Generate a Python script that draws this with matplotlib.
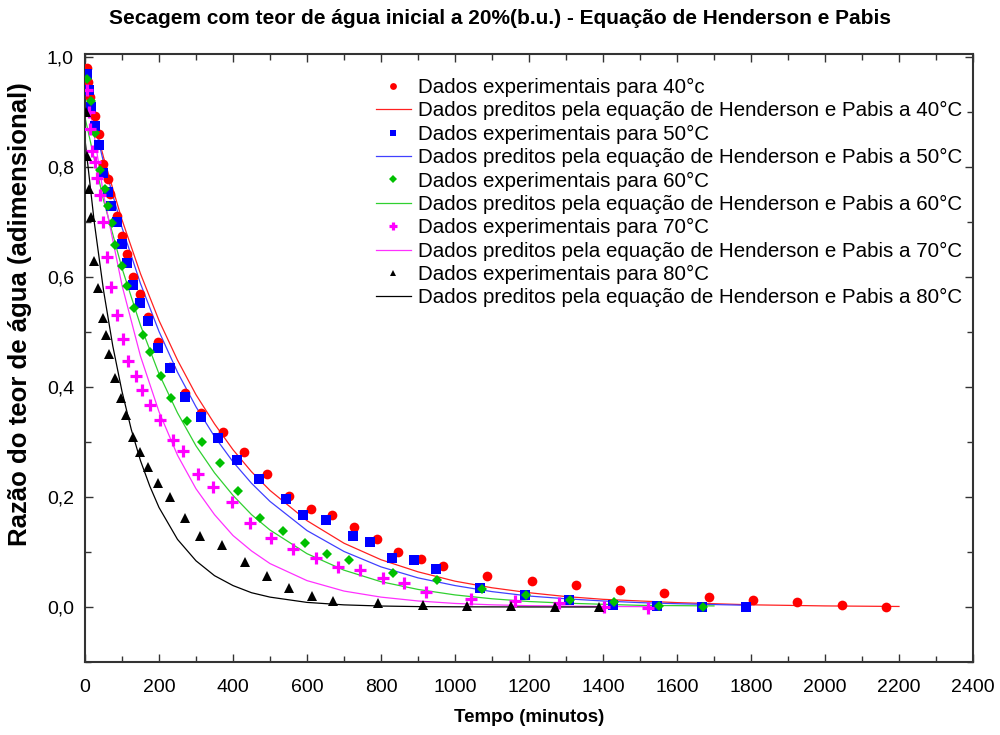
import matplotlib
matplotlib.use("Agg")
import matplotlib.pyplot as plt
from matplotlib.ticker import MultipleLocator, FuncFormatter

# ---------------- data ----------------
t40 = [5, 8, 14, 27, 38, 49, 62, 68, 86, 100, 114, 130, 149, 170, 197, 230, 270, 314, 373, 430,
       492, 551, 611, 668, 727, 789, 846, 908, 968, 1086, 1208, 1327, 1446, 1565, 1686, 1805, 1924, 2046, 2165]
mr40 = [0.98, 0.955, 0.927, 0.893, 0.86, 0.805, 0.778, 0.751, 0.711, 0.675, 0.642, 0.60, 0.569, 0.527,
        0.482, 0.436, 0.389, 0.353, 0.318, 0.282, 0.242, 0.202, 0.178, 0.167, 0.145, 0.124, 0.100, 0.087,
        0.075, 0.056, 0.047, 0.040, 0.031, 0.025, 0.018, 0.013, 0.009, 0.004, 0.0]

t50 = [5, 10, 16, 27, 38, 49, 62, 70, 86, 100, 114, 130, 149, 170, 197, 230, 270, 314, 359, 411,
       470, 543, 589, 651, 724, 770, 830, 889, 949, 1068, 1189, 1308, 1427, 1546, 1668, 1786]
mr50 = [0.97, 0.94, 0.91, 0.875, 0.84, 0.79, 0.755, 0.73, 0.70, 0.66, 0.625, 0.585, 0.552, 0.52, 0.471,
        0.435, 0.382, 0.345, 0.307, 0.267, 0.233, 0.196, 0.167, 0.158, 0.129, 0.118, 0.089, 0.085, 0.069,
        0.035, 0.022, 0.013, 0.004, 0.002, 0.0, 0.0]

t60 = [5, 16, 27, 41, 54, 62, 73, 81, 100, 114, 132, 157, 176, 205, 232, 276, 316, 365, 414, 473,
       535, 595, 654, 714, 832, 951, 1073, 1192, 1311, 1430, 1551, 1670]
mr60 = [0.96, 0.92, 0.862, 0.795, 0.76, 0.73, 0.698, 0.658, 0.62, 0.584, 0.544, 0.495, 0.464, 0.42,
        0.38, 0.338, 0.30, 0.262, 0.211, 0.162, 0.138, 0.116, 0.096, 0.086, 0.062, 0.050, 0.033, 0.022,
        0.013, 0.009, 0.002, 0.0]

t70 = [5, 11, 14, 19, 27, 32, 41, 49, 59, 70, 86, 103, 116, 138, 154, 176, 203, 238, 265, 305, 346,
       397, 446, 503, 562, 624, 684, 743, 805, 862, 922, 1043, 1162, 1281, 1403, 1522]
mr70 = [0.94, 0.90, 0.87, 0.83, 0.81, 0.78, 0.75, 0.70, 0.636, 0.582, 0.531, 0.487, 0.447, 0.42, 0.395,
        0.367, 0.34, 0.304, 0.284, 0.242, 0.218, 0.191, 0.153, 0.125, 0.105, 0.089, 0.073, 0.067, 0.053,
        0.044, 0.027, 0.015, 0.011, 0.007, 0.0, -0.002]

t80 = [3, 5, 11, 16, 24, 35, 49, 57, 65, 81, 97, 111, 130, 149, 170, 197, 230, 270, 311, 370, 432,
       492, 551, 614, 670, 792, 914, 1032, 1151, 1270, 1389]
mr80 = [0.90, 0.82, 0.76, 0.71, 0.63, 0.58, 0.525, 0.495, 0.46, 0.416, 0.38, 0.349, 0.309, 0.282,
        0.255, 0.225, 0.20, 0.162, 0.129, 0.113, 0.082, 0.056, 0.035, 0.020, 0.011, 0.007, 0.004, 0.002,
        0.002, 0.0, 0.0]

# predicted curves
tp40 = [0, 50, 100, 150, 200, 250, 300, 350, 400, 450, 500, 600, 700, 800, 900, 1000, 1100, 1200,
        1300, 1400, 1600, 1800, 2000, 2200]
pp40 = [0.95, 0.818, 0.704, 0.606, 0.521, 0.449, 0.386, 0.333, 0.286, 0.246, 0.212, 0.157, 0.116,
        0.086, 0.064, 0.047, 0.035, 0.026, 0.019, 0.014, 0.008, 0.004, 0.002, 0.001]

tp50 = [0, 50, 100, 150, 200, 250, 300, 350, 400, 450, 500, 600, 700, 800, 900, 1000, 1100, 1200,
        1300, 1400, 1500, 1600, 1800]
pp50 = [0.95, 0.809, 0.690, 0.588, 0.501, 0.427, 0.364, 0.310, 0.264, 0.225, 0.192, 0.139, 0.101,
        0.073, 0.053, 0.039, 0.028, 0.020, 0.015, 0.011, 0.008, 0.006, 0.003]

tp60 = [0, 50, 100, 150, 200, 250, 300, 350, 400, 450, 500, 600, 700, 800, 900, 1000, 1100, 1200,
        1300, 1400, 1500, 1700]
pp60 = [0.89, 0.74, 0.616, 0.512, 0.424, 0.353, 0.293, 0.244, 0.203, 0.168, 0.140, 0.097, 0.067,
        0.046, 0.032, 0.022, 0.015, 0.010, 0.007, 0.005, 0.003, 0.002]

tp70 = [0, 50, 100, 150, 200, 250, 300, 350, 400, 450, 500, 600, 700, 800, 900, 1000, 1100, 1200,
        1400, 1550]
pp70 = [0.965, 0.75, 0.585, 0.456, 0.355, 0.276, 0.215, 0.168, 0.130, 0.102, 0.079, 0.048, 0.029,
        0.018, 0.011, 0.0065, 0.004, 0.0024, 0.001, 0.0005]

tp80 = [0, 25, 50, 75, 100, 125, 150, 175, 200, 250, 300, 350, 400, 450, 500, 600, 700, 800, 900,
        1000, 1200, 1400]
pp80 = [0.85, 0.70, 0.576, 0.475, 0.392, 0.323, 0.266, 0.22, 0.181, 0.123, 0.084, 0.057, 0.039,
        0.026, 0.018, 0.0084, 0.0039, 0.0018, 0.0008, 0.0004, 0.0001, 0.0]

xticks = [0, 200, 400, 600, 800, 1000, 1200, 1400, 1600, 1800, 2000, 2200, 2400]
yticks = [0.0, 0.2, 0.4, 0.6, 0.8, 1.0]

title = "Secagem com teor de água inicial a 20%(b.u.) - Equação de Henderson e Pabis"
xlabel = "Tempo (minutos)"
ylabel = "Razão do teor de água (adimensional)"
lab_exp = ["Dados experimentais para 40°c", "Dados experimentais para 50°C",
           "Dados experimentais para 60°C", "Dados experimentais para 70°C",
           "Dados experimentais para 80°C"]
lab_pred = ["Dados preditos pela equação de Henderson e Pabis a 40°C",
            "Dados preditos pela equação de Henderson e Pabis a 50°C",
            "Dados preditos pela equação de Henderson e Pabis a 60°C",
            "Dados preditos pela equação de Henderson e Pabis a 70°C",
            "Dados preditos pela equação de Henderson e Pabis a 80°C"]

# ---------------- plot ----------------
plt.rcParams['font.family'] = ['Liberation Sans', 'DejaVu Sans']

fig = plt.figure(figsize=(10, 7.35), dpi=100)
ax = fig.add_axes([0.085, 0.0993, 0.888, 0.8272])

series = [
    (t40, mr40, tp40, pp40, 'o', '#ff0000', '#ff2020', 7.0, 0),
    (t50, mr50, tp50, pp50, 's', '#0000ff', '#4040ff', 7.0, 0),
    (t60, mr60, tp60, pp60, 'D', '#00c000', '#30d030', 5.3, 0),
    (t70, mr70, tp70, pp70, '+', '#ff00ff', '#ff30ff', 9.0, 2.3),
    (t80, mr80, tp80, pp80, '^', '#000000', '#000000', 7.0, 0),
]
handles = []
labels = []
for i, (tx, my, tpx, ppy, mk, c, lc, ms, mew) in enumerate(series):
    kw = dict(markeredgewidth=mew) if mk == '+' else dict(markeredgewidth=0)
    h1, = ax.plot(tx, my, linestyle='none', marker=mk, color=c, markersize=ms, zorder=3 + i, **kw)
    h2, = ax.plot(tpx, ppy, linestyle='-', color=lc, linewidth=0.9, zorder=2)
    handles += [h1, h2]
    labels += [lab_exp[i], lab_pred[i]]

ax.set_xlim(0, 2400)
ax.set_ylim(-0.1, 1.0055)
ax.set_xticks(xticks)
ax.set_yticks(yticks)
ax.xaxis.set_minor_locator(MultipleLocator(100))
ax.yaxis.set_minor_locator(MultipleLocator(0.1))
ax.yaxis.set_major_formatter(FuncFormatter(lambda v, p: f"{v:.1f}".replace('.', ',')))
ax.tick_params(which='both', direction='in', top=True, right=True, color='#333333')
ax.tick_params(which='major', length=6, width=1.0, labelsize=14, pad=12)
ax.tick_params(which='minor', length=4, width=1.0)
ax.tick_params(axis='y', which='major', pad=8)
for s in ax.spines.values():
    s.set_linewidth(1.5)
    s.set_color('#333333')

fig.text(0.5, 1 - 18 / 735, title, ha='center', va='center', fontsize=15, fontweight='bold')
fig.text(529 / 1000, 1 - 718 / 735, xlabel, ha='center', va='center', fontsize=13.5,
         fontweight='bold')
fig.text(20 / 1000, 1 - 314 / 735, ylabel, ha='center', va='center', rotation=90, fontsize=18.5,
         fontweight='bold')

leg = ax.legend(handles, labels, loc='upper right', bbox_to_anchor=(962 / 1000, 1 - 78 / 735),
                bbox_transform=fig.transFigure, frameon=False, fontsize=14.8, labelspacing=0.21,
                handlelength=1.7, handletextpad=0.35, borderaxespad=0, borderpad=0, markerscale=0.7)

fig.savefig("out.png", dpi=100)
